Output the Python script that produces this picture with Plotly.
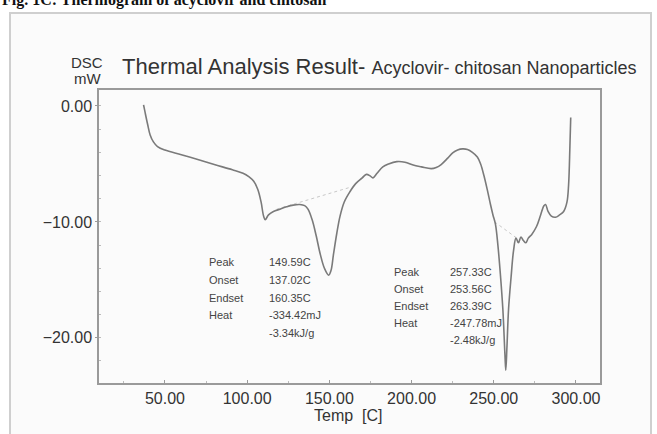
import plotly.graph_objects as go

# DSC curve (Temp [C], DSC mW)
temp = [37, 38, 39.5, 41, 43, 45.5, 50, 60, 71, 80, 91, 97.5, 101, 104, 106.5, 108.5, 110, 111,
        113, 116, 120, 124, 128, 132, 135, 137, 139.5, 142, 144.5, 147, 149.6, 151, 152.5, 154.5,
        156.5, 159, 162.5, 166, 170, 172.5, 175, 176.5, 179, 182.5, 186, 191, 196, 201, 206, 212,
        215, 218, 222, 225, 228, 231, 234, 237, 240, 242, 244, 246, 248, 249.5, 251, 252.5, 254,
        255.5, 256.8, 257.3, 258, 259, 260.5, 262, 263.5, 265, 266.5, 268, 269.5, 271, 273, 276,
        278.5, 280.5, 281.5, 283, 285, 287.5, 290, 292.5, 294.5, 295.5, 296.3, 296.8]
dsc = [0.1, -0.6, -1.6, -2.5, -3.1, -3.5, -3.8, -4.2, -4.66, -5.05, -5.5, -5.8, -6.1, -6.5, -7.2,
       -8.3, -9.5, -9.8, -9.4, -9.1, -8.9, -8.7, -8.55, -8.5, -8.6, -8.9, -9.8, -11.2, -12.8, -14.0,
       -14.6, -14.2, -12.8, -11.0, -9.5, -8.3, -7.4, -6.7, -6.2, -5.9, -6.05, -6.2, -5.8, -5.25,
       -5.0, -4.8, -4.85, -5.1, -5.25, -5.4, -5.3, -5.05, -4.5, -4.05, -3.8, -3.7, -3.75, -4.0,
       -4.4, -5.0, -6.0, -7.2, -8.5, -9.4, -10.2, -12.0, -14.5, -17.5, -21.5, -22.8, -20.8, -17.5,
       -14.8, -12.5, -11.4, -11.8, -11.3, -11.6, -11.8, -11.4, -11.1, -10.4, -9.4, -8.6, -8.5,
       -9.1, -9.5, -9.6, -9.4, -9.1, -8.3, -6.8, -3.5, -1.0]

# Peak baselines
base1_t = [118, 163]
base1_d = [-8.9, -7.0]
base2_t = [250.5, 264]
base2_d = [-10.0, -11.4]

# Peak results
peak1_labels = ["Peak", "Onset", "Endset", "Heat", ""]
peak1_values = ["149.59C", "137.02C", "160.35C", "-334.42mJ", "-3.34kJ/g"]
peak2_labels = ["Peak", "Onset", "Endset", "Heat", ""]
peak2_values = ["257.33C", "253.56C", "263.39C", "-247.78mJ", "-2.48kJ/g"]

x_ticks = [50, 100, 150, 200, 250, 300]
y_ticks = [0, -10, -20]

fig = go.Figure()
fig.add_trace(go.Scatter(x=base1_t, y=base1_d, mode="lines",
                         line=dict(color="#c8c8c8", width=1, dash="dot"), hoverinfo="skip"))
fig.add_trace(go.Scatter(x=base2_t, y=base2_d, mode="lines",
                         line=dict(color="#c8c8c8", width=1, dash="dot"), hoverinfo="skip"))
fig.add_trace(go.Scatter(x=temp, y=dsc, mode="lines", line=dict(color="#7a7a7a", width=1.6),
                         line_shape="spline"))

W, H = 657, 434
L, R, T, B = 99, 57, 90, 51
pw, ph = W - L - R, H - T - B


def px(x):
    return (x - L) / pw


def py(y):
    return 1 + (T - y) / ph


ann = []
font_small = dict(family="Liberation Sans, Arial", size=11, color="#444")
# left result block
ys1 = [262, 280, 298, 315, 333]
for lab, val, yy in zip(peak1_labels, peak1_values, ys1):
    if lab:
        ann.append(dict(x=px(207), y=py(yy), xref="paper", yref="paper", text=lab,
                        showarrow=False, xanchor="left", yanchor="middle", font=font_small))
    ann.append(dict(x=px(267), y=py(yy), xref="paper", yref="paper", text=val,
                    showarrow=False, xanchor="left", yanchor="middle", font=font_small))
ys2 = [272, 289, 306, 323, 340]
for lab, val, yy in zip(peak2_labels, peak2_values, ys2):
    if lab:
        ann.append(dict(x=px(392), y=py(yy), xref="paper", yref="paper", text=lab,
                        showarrow=False, xanchor="left", yanchor="middle", font=font_small))
    ann.append(dict(x=px(448), y=py(yy), xref="paper", yref="paper", text=val,
                    showarrow=False, xanchor="left", yanchor="middle", font=font_small))

ann.append(dict(x=px(87), y=py(63), xref="paper", yref="paper", text="DSC", showarrow=False,
                xanchor="center", yanchor="middle",
                font=dict(family="Liberation Sans, Arial", size=15, color="#333")))
ann.append(dict(x=px(87), y=py(78), xref="paper", yref="paper", text="mW", showarrow=False,
                xanchor="center", yanchor="middle",
                font=dict(family="Liberation Sans, Arial", size=15, color="#333")))
ann.append(dict(x=px(120), y=py(81), xref="paper", yref="paper",
                text="Thermal Analysis Result- <span style='font-size:18px'>Acyclovir- chitosan Nanoparticles</span>",
                showarrow=False, xanchor="left", yanchor="bottom",
                font=dict(family="Liberation Sans, Arial", size=22, color="#333")))
ann.append(dict(x=px(348), y=py(415), xref="paper", yref="paper", text="Temp  [C]",
                showarrow=False, xanchor="center", yanchor="middle",
                font=dict(family="Liberation Sans, Arial", size=16, color="#333")))
ann.append(dict(x=px(0), y=py(0), xref="paper", yref="paper",
                text="<b>Fig. 1C: Thermogram of acyclovir and chitosan</b>",
                showarrow=False, xanchor="left", yanchor="middle",
                font=dict(family="Liberation Serif, Times New Roman", size=16, color="#111")))

fig.update_layout(
    width=W, height=H,
    margin=dict(l=L, r=R, t=T, b=B, pad=0),
    paper_bgcolor="white", plot_bgcolor="white",
    showlegend=False,
    annotations=ann,
    shapes=[dict(type="rect", xref="paper", yref="paper", x0=px(10), x1=px(651),
                 y0=py(470), y1=py(13), line=dict(color="#cfcfcf", width=2),
                 fillcolor="#fbfbfb", layer="below")],
    xaxis=dict(range=[9.9, 314.6], tickvals=x_ticks, tickformat=".2f",
               showgrid=False, zeroline=False, showline=True, linecolor="#9a9a9a",
               linewidth=1.5, mirror=True, ticks="inside", ticklen=3, tickcolor="#9a9a9a",
               tickfont=dict(family="Liberation Sans, Arial", size=16, color="#333"),
               minor=dict(dtick=25, tick0=0, ticks="inside", ticklen=2, tickcolor="#bbb")),
    yaxis=dict(range=[-23.9, 1.38], tickvals=y_ticks, tickformat=".2f",
               showgrid=False, zeroline=False, showline=True, linecolor="#9a9a9a",
               linewidth=1.5, mirror=True, ticks="outside", ticklen=2, tickcolor="#9a9a9a",
               tickfont=dict(family="Liberation Sans, Arial", size=16, color="#333"),
               minor=dict(dtick=2, tick0=0, ticks="inside", ticklen=2, tickcolor="#bbb")),
)

fig.write_html("out.html")
